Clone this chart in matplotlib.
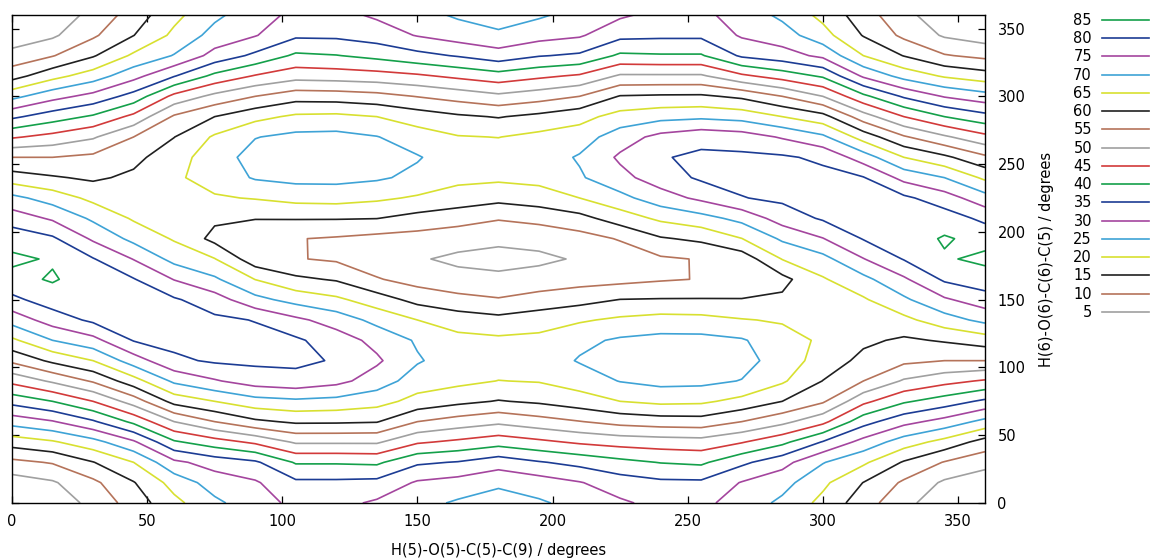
import numpy as np
import matplotlib
matplotlib.use("Agg")
import matplotlib.pyplot as plt
from matplotlib.lines import Line2D

#---------------------------------------------------------------------------
# scan grid (degrees)
h5_angle = [0, 15, 30, 45, 60, 75, 90, 105, 120, 135, 150, 165, 180,
            195, 210, 225, 240, 255, 270, 285, 300, 315, 330, 345, 360]
h6_angle = [0, 15, 30, 45, 60, 75, 90, 105, 120, 135, 150, 165, 180,
            195, 210, 225, 240, 255, 270, 285, 300, 315, 330, 345, 360]

# contour levels and their line colours
levels = [5, 10, 15, 20, 25, 30, 35, 40, 45, 50, 55, 60, 65, 70, 75, 80, 85]
level_colors = ['#a0a0a0', '#b5735a', '#202020', '#d8e030', '#3ea3d6',
                '#a4459e', '#1c3c94', '#14a04a', '#d23a3a', '#a0a0a0',
                '#b5735a', '#202020', '#d8e030', '#3ea3d6', '#a4459e',
                '#1c3c94', '#14a04a']

# energy, one list per H(5) angle, running along H(6) angle
energy_cols = [
    [0, 2.5, 8.7, 17.3, 27, 36.7, 46.4, 56, 64, 72, 78.8, 83.5, 86, 83, 77.7, 71.4, 62.3, 55, 44.4, 34, 23.5, 13, 6.7, 2, 0],
    [2, 4.4, 10.4, 19.4, 29.6, 40, 50.8, 61.1, 70, 77.3, 82.5, 85.5, 84.5, 80.8, 74.3, 67.8, 60.5, 55, 46.6, 37.6, 28.2, 18.3, 9.7, 4.2, 2],
    [6.4, 8.9, 14.8, 23.2, 34.3, 45, 55.6, 65, 73.4, 81, 83.2, 82.5, 80.3, 74.2, 69.1, 63.7, 59.2, 56.1, 49.4, 40.7, 31.6, 22.5, 14.5, 9.2, 6.4],
    [12.3, 14.7, 20, 29.2, 41.2, 52.3, 62.9, 72.5, 80.3, 82, 82.3, 80.3, 74.8, 68.6, 64.4, 62.7, 61, 58.6, 55, 46.3, 36.9, 28.3, 20.9, 14.9, 12.3],
    [18.6, 21.9, 28.9, 39.3, 50, 61.8, 71, 79, 81.5, 82, 80.6, 74.8, 68.4, 64.5, 63.5, 63.5, 64.2, 63, 59.9, 55.7, 46.4, 34.7, 25.3, 21.1, 18.6],
    [23.9, 27.3, 32.1, 42.8, 55, 65, 74.5, 80.7, 81.5, 81, 77.3, 70.8, 65.2, 58.5, 60.9, 64.5, 67, 67.5, 65.7, 60, 51.4, 41.3, 31.8, 26.8, 23.9],
    [27.9, 29.4, 34.2, 46, 59, 68.1, 77.4, 81, 81.5, 79.8, 71.5, 64.9, 57, 56.5, 60.2, 65.3, 70.5, 72, 69.8, 63.5, 55, 45.4, 36.1, 29.7, 27.9],
    [31.2, 34, 40.5, 50.7, 60.8, 69, 78.4, 81, 80.8, 76.1, 68.2, 61, 55.3, 55.2, 60.3, 66.6, 71.5, 72.5, 71.3, 65.9, 57.9, 48, 40.9, 34.1, 31.2],
    [31.5, 34, 40.5, 50.7, 60.7, 68.4, 76.5, 79.6, 77.5, 72.8, 66, 59.5, 54.3, 54.5, 60.3, 66.9, 71.5, 72.8, 71.5, 66.2, 57.6, 47.6, 40.2, 34, 31.5],
    [29.2, 33.6, 40.9, 50.7, 60.3, 66.9, 72.6, 75.8, 73.5, 68.5, 62.4, 55.4, 52, 53.5, 60.1, 65.9, 70.7, 71.5, 70.2, 65, 56.7, 47, 38.6, 32.6, 29.2],
    [26.7, 29.4, 35.8, 45.7, 55, 63.3, 67.6, 70.5, 69.4, 65, 58.4, 53, 50.5, 53, 58.3, 64.4, 68.8, 70.4, 67.3, 62.7, 54.8, 45.8, 36.5, 29.7, 26.7],
    [24.3, 28.1, 34.7, 44, 52.8, 61.3, 66.3, 67.5, 66.5, 62.7, 56.5, 51.6, 49, 52, 57, 62.8, 66.3, 67.3, 65.3, 60.8, 53, 43.9, 34.6, 27.6, 24.3],
    [22, 26.2, 32.2, 42.1, 51.1, 59.7, 64.9, 67.5, 66, 61.5, 55.4, 51, 48.5, 51, 55.4, 61.5, 66, 67.5, 64.9, 59.7, 51.1, 42.1, 32.2, 26.2, 22],
    [24.3, 27.6, 34.6, 43.9, 53, 60.8, 65.3, 67.3, 66.3, 62.8, 57, 52, 49, 51.6, 56.5, 62.7, 66.5, 67.5, 66.3, 61.3, 52.8, 44, 34.7, 28.1, 24.3],
    [26.7, 29.7, 36.5, 45.8, 54.8, 62.7, 67.3, 70.4, 68.8, 64.4, 58.3, 53, 50.5, 53, 58.4, 65, 69.4, 70.5, 67.6, 63.3, 55, 45.7, 35.8, 29.4, 26.7],
    [29.2, 32.6, 38.6, 47, 56.7, 65, 70.2, 71.5, 70.7, 65.9, 60.1, 53.5, 52, 55.4, 62.4, 68.5, 73.5, 75.8, 72.6, 66.9, 60.3, 50.7, 40.9, 33.6, 29.2],
    [31.5, 34, 40.2, 47.6, 57.6, 66.2, 71.5, 72.8, 71.5, 66.9, 60.3, 54.5, 54.3, 59.5, 66, 72.8, 77.5, 79.6, 76.5, 68.4, 60.7, 50.7, 40.5, 34, 31.5],
    [31.2, 34.1, 40.9, 48, 57.9, 65.9, 71.3, 72.5, 71.5, 66.6, 60.3, 55.2, 55.3, 61, 68.2, 76.1, 80.8, 81, 78.4, 69, 60.8, 50.7, 40.5, 34, 31.2],
    [27.9, 29.7, 36.1, 45.4, 55, 63.5, 69.8, 72, 70.5, 65.3, 60.2, 56.5, 57, 64.9, 71.5, 79.8, 81.5, 81, 77.4, 68.1, 59, 46, 34.2, 29.4, 27.9],
    [23.9, 26.8, 31.8, 41.3, 51.4, 60, 65.7, 67.5, 67, 64.5, 60.9, 58.5, 65.2, 70.8, 77.3, 81, 81.5, 80.7, 74.5, 65, 55, 42.8, 32.1, 27.3, 23.9],
    [18.6, 21.1, 25.3, 34.7, 46.4, 55.7, 59.9, 63, 64.2, 63.5, 63.5, 64.5, 68.4, 74.8, 80.6, 82, 81.5, 79, 71, 61.8, 50, 39.3, 28.9, 21.9, 18.6],
    [12.3, 14.9, 20.9, 28.3, 36.9, 46.3, 55, 58.6, 61, 62.7, 64.4, 68.6, 74.8, 80.3, 82.3, 82, 80.3, 72.5, 62.9, 52.3, 41.2, 29.2, 20, 14.7, 12.3],
    [6.4, 9.2, 14.5, 22.5, 31.6, 40.7, 49.4, 56.1, 59.2, 63.7, 69.1, 74.2, 80.3, 82.5, 83.2, 81, 73.4, 65, 55.6, 45, 34.3, 23.2, 14.8, 8.9, 6.4],
    [2, 4.2, 9.7, 18.3, 28.2, 37.6, 46.6, 55, 60.5, 67.8, 74.3, 80.8, 84.5, 85.5, 82.5, 77.3, 70, 61.1, 50.8, 40, 29.6, 19.4, 10.4, 4.4, 2],
    [0, 2, 6.7, 13, 23.5, 34, 44.4, 55, 62.3, 71.4, 77.7, 83, 86, 83.5, 78.8, 72, 64, 56, 46.4, 36.7, 27, 17.3, 8.7, 2.5, 0],
]

#---------------------------------------------------------------------------
energy = np.array(energy_cols).T   # rows: H(6) angle, columns: H(5) angle

fig = plt.figure(figsize=(11.5, 5.59), dpi=100)
ax = fig.add_axes([0.0104, 0.1002, 0.8461, 0.8730])

cs = ax.contour(h5_angle, h6_angle, energy, levels=levels,
                colors=level_colors, linewidths=1.2)

ax.set_xlim(0, 360)
ax.set_ylim(0, 360)
ax.set_xticks(range(0, 351, 50))
ax.set_yticks(range(0, 351, 50))
ax.tick_params(direction='in', length=5, width=0.9, top=True, right=True,
               labelleft=False, labelright=True, labelsize=10.5)
ax.tick_params(axis='x', pad=8)
ax.tick_params(axis='y', pad=9)
for sp in ax.spines.values():
    sp.set_linewidth(1.0)

ax.set_xlabel('H(5)-O(5)-C(5)-C(9) / degrees', fontsize=10.5, labelpad=10)
ax.yaxis.set_label_position('right')
ax.set_ylabel('H(6)-O(6)-C(6)-C(5) / degrees', fontsize=10.5, labelpad=10)

# key: highest level first, label to the left of its line sample
handles = [Line2D([], [], color=c, lw=1.2) for c in level_colors[::-1]]
labels = [str(v) for v in levels[::-1]]
fig.legend(handles, labels, loc='upper right', bbox_to_anchor=(0.999, 0.977),
           markerfirst=False, frameon=False, fontsize=10.5, handlelength=3.2,
           handletextpad=0.7, labelspacing=0.223, borderpad=0, borderaxespad=0)

fig.savefig('out.png', dpi=100)
